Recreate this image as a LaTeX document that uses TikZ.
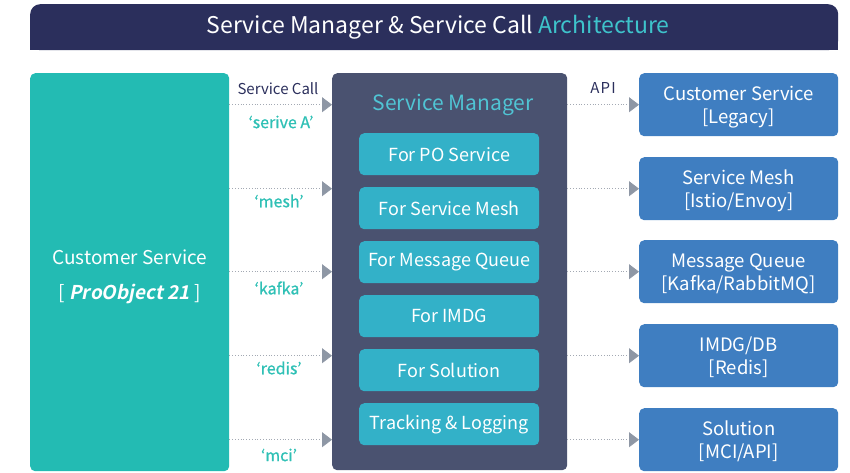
\documentclass[tikz,border=0pt]{standalone}
\usepackage{fontspec}
\setmainfont{Noto Sans CJK KR}
\newfontfamily\pofont{Noto Sans CJK KR Bold}[FakeSlant=0.2]
\usetikzlibrary{arrows.meta}
\definecolor{navy}{HTML}{2B2F5C}
\definecolor{teal1}{HTML}{23BBB3}
\definecolor{tealtxt}{HTML}{2FC0B5}
\definecolor{archc}{HTML}{3EC3CB}
\definecolor{smbg}{HTML}{4A5270}
\definecolor{smtitle}{HTML}{50C4D4}
\definecolor{inner}{HTML}{33B1C8}
\definecolor{rbox}{HTML}{3F7EC1}
\definecolor{arrowc}{HTML}{8E97A5}
\definecolor{dotc}{HTML}{A3A9B3}
\newcommand{\twolines}[3][6pt]{\raisebox{0pt}[\dimexpr\height+#1\relax][\depth]{\begin{tabular}{@{}c@{}}#2\\#3\end{tabular}}}
\tikzset{
  innerbox/.style={fill=inner, rounded corners=5pt, minimum width=180pt, minimum height=42pt, anchor=north west, text=white, font=\fontsize{18}{22}\selectfont, inner sep=0pt},
  rightbox/.style={fill=rbox, rounded corners=5pt, minimum width=199pt, minimum height=63pt, anchor=north west, text=white, font=\fontsize{18.5}{23}\selectfont, inner sep=0pt},
  conn/.style={draw=dotc, dotted, line width=0.8pt, -{Triangle[length=10pt,width=15pt,fill=arrowc,color=arrowc]}},
  lbl/.style={text=tealtxt, font=\fontsize{16}{18}\selectfont\addfontfeature{FakeBold=0.8}},
  hdr/.style={text=navy, font=\fontsize{15}{18}\selectfont}
}
\begin{document}
\begin{tikzpicture}[x=1pt,y=-1pt]
\useasboundingbox (0,0) rectangle (850,472);
% title
\fill[navy] (30,30) rectangle (838,50);
\node[fill=navy, rounded corners=10pt, minimum width=808pt, minimum height=46pt, anchor=north west, inner sep=0pt, text=white, font=\fontsize{23}{26}\selectfont] (title) at (30,4) {\hspace*{8pt}Service Manager \& Service Call \textcolor{archc}{Architecture}};
% left box
\node[fill=teal1, rounded corners=5pt, minimum width=199pt, minimum height=398pt, anchor=north west, inner sep=0pt, text=white, font=\fontsize{19}{35}\selectfont] (cs) at (30,73) {\twolines[5pt]{Customer Service}{{[} {\pofont ProObject 21} {]}}};
% center box
\node[fill=smbg, rounded corners=5pt, minimum width=235pt, minimum height=397pt, anchor=north west, inner sep=0pt] (sm) at (332,73) {};
\node[text=smtitle, font=\fontsize{21}{24}\selectfont] (smt) at (453,105) {Service Manager};
\node[innerbox] (i1) at (359,133) {For PO Service};
\node[innerbox] (i2) at (359,187) {For Service Mesh};
\node[innerbox] (i3) at (359,241) {For Message Queue};
\node[innerbox] (i4) at (359,295) {For IMDG};
\node[innerbox] (i5) at (359,349) {For Solution};
\node[innerbox] (i6) at (359,403) {Tracking \& Logging};
% right boxes
\node[rightbox] (r1) at (639,73) {\twolines{Customer Service}{{[}Legacy{]}}};
\node[rightbox] (r2) at (639,157) {\twolines{Service Mesh}{{[}Istio/Envoy{]}}};
\node[rightbox] (r3) at (639,240) {\twolines{Message Queue}{{[}Kafka/RabbitMQ{]}}};
\node[rightbox] (r4) at (639,324) {\twolines{IMDG/DB}{{[}Redis{]}}};
\node[rightbox] (r5) at (639,408) {\twolines{Solution}{{[}MCI/API{]}}};
% connectors
\foreach \r in {r1,r2,r3,r4,r5}{
  \draw[conn] (cs.east |- \r.west) -- (sm.west |- \r.west);
  \draw[conn] (sm.east |- \r.west) -- (\r.west);
}
% labels
\node[hdr] (hsc) at (278,89) {Service Call};
\node[hdr, font=\fontsize{15}{18}\selectfont\addfontfeature{LetterSpace=8}] (hapi) at (603,88) {API};
\node[lbl] (l1) at (281,122) {‘serive A’};
\node[lbl] (l2) at (279,201) {‘mesh’};
\node[lbl] (l3) at (279,288) {‘kafka’};
\node[lbl] (l4) at (279,368) {‘redis’};
\node[lbl] (l5) at (279,455) {‘mci’};
\end{tikzpicture}
\end{document}
